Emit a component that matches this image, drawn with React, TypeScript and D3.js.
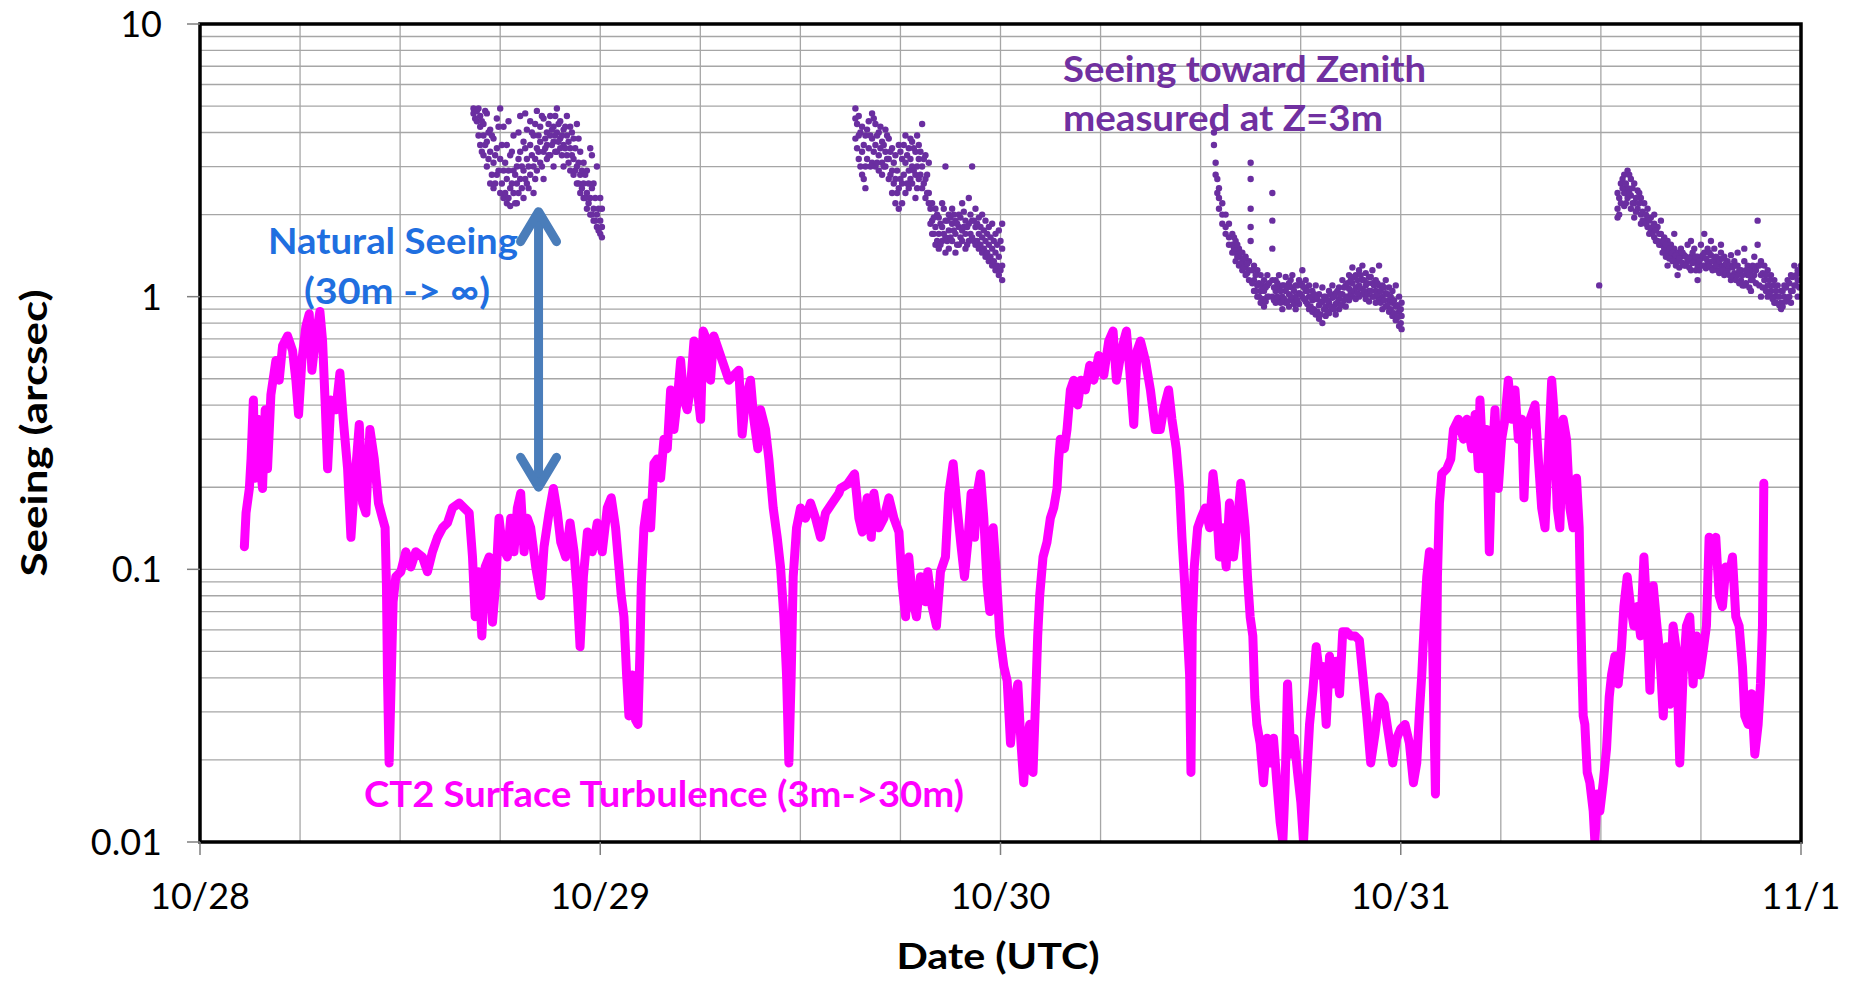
import React from 'react';
import * as d3 from 'd3';

// ---------- axes ----------
const dayLabels = ['10/28', '10/29', '10/30', '10/31', '11/1'];
const dayHours = [0, 24, 48, 72, 96];
const yTickValues = [0.01, 0.1, 1, 10];
const yTickLabels = ['0.01', '0.1', '1', '10'];

// ---------- CT2 surface turbulence (3m->30m): [hours since 10/28 00:00, arcsec] ----------
const ct2Turbulence: [number, number][] = [
  [2.66,0.121],[2.76,0.161],[2.96,0.198],[3.06,0.254],[3.2,0.418],[3.31,0.216],[3.45,0.355],[3.59,0.254],[3.75,0.198],[3.91,0.385],[4.05,0.234],[4.25,0.436],[4.55,0.583],[4.75,0.494],[4.95,0.66],[5.25,0.718],[5.55,0.634],[5.75,0.494],[5.91,0.37],[6.11,0.583],[6.35,0.78],[6.55,0.865],[6.71,0.537],[6.91,0.688],[7.19,0.883],[7.35,0.688],[7.51,0.401],[7.65,0.234],[7.85,0.418],[8.15,0.385],[8.39,0.525],[8.59,0.355],[8.85,0.234],[9.05,0.131],[9.25,0.198],[9.55,0.34],[9.75,0.175],[9.95,0.161],[10.19,0.326],[10.45,0.254],[10.7,0.175],[10.94,0.154],[11.1,0.142],[11.18,0.087],[11.24,0.041],[11.34,0.0195],[11.44,0.034],[11.58,0.076],[11.74,0.094],[12.04,0.098],[12.34,0.116],[12.64,0.102],[12.94,0.116],[13.34,0.111],[13.64,0.098],[13.94,0.116],[14.24,0.131],[14.54,0.142],[14.84,0.148],[15.14,0.168],[15.54,0.175],[15.84,0.168],[16.14,0.161],[16.34,0.111],[16.5,0.067],[16.7,0.098],[16.9,0.057],[17.1,0.102],[17.34,0.111],[17.54,0.064],[17.74,0.09],[17.93,0.154],[18.13,0.121],[18.43,0.111],[18.63,0.154],[18.83,0.116],[19.03,0.168],
  [19.23,0.19],[19.43,0.116],[19.63,0.154],[19.83,0.142],[20.13,0.102],[20.43,0.08],[20.63,0.121],[20.93,0.161],[21.19,0.198],[21.43,0.161],[21.63,0.126],[21.93,0.111],[22.19,0.148],[22.43,0.116],[22.63,0.08],[22.79,0.052],[22.99,0.094],[23.23,0.137],[23.52,0.116],[23.82,0.148],[24.12,0.116],[24.42,0.168],[24.66,0.183],[24.92,0.142],[25.12,0.102],[25.26,0.08],[25.42,0.067],[25.58,0.041],[25.72,0.029],[25.92,0.041],[26.12,0.028],[26.26,0.027],[26.38,0.05],[26.46,0.087],[26.62,0.142],[26.82,0.175],[27.02,0.142],[27.22,0.244],[27.42,0.254],[27.62,0.216],[27.82,0.3],[28.02,0.277],[28.22,0.455],[28.42,0.326],[28.62,0.418],[28.82,0.583],[29.02,0.418],[29.22,0.385],[29.42,0.474],[29.62,0.688],[29.82,0.455],[30.02,0.355],[30.17,0.748],[30.41,0.688],[30.61,0.494],[30.81,0.718],[31.11,0.634],[31.41,0.56],[31.71,0.494],[32.01,0.515],[32.31,0.537],[32.51,0.313],[32.71,0.418],[33.01,0.494],[33.21,0.355],[33.45,0.277],[33.61,0.385],[33.91,0.326],[34.11,0.254],[34.37,0.168],[34.61,0.131],[34.81,0.102],[35.01,0.067],[35.17,0.041],[35.31,0.0195],[35.45,0.041],[35.57,0.094],[35.77,0.142],[36.01,0.168],[36.31,0.154],[36.61,0.175],[36.91,0.154],[37.21,0.131],[37.51,0.161],[37.91,0.175],[38.31,0.19],
  [38.41,0.198],[38.81,0.205],[39.25,0.224],[39.51,0.154],[39.71,0.137],[40.01,0.183],[40.25,0.131],[40.41,0.19],[40.71,0.142],[41.01,0.154],[41.31,0.183],[41.61,0.154],[41.91,0.137],[42.11,0.087],[42.31,0.067],[42.5,0.111],[42.7,0.08],[42.96,0.067],[43.2,0.094],[43.5,0.076],[43.64,0.098],[43.9,0.073],[44.16,0.062],[44.4,0.098],[44.7,0.111],[44.9,0.19],[45.16,0.244],[45.4,0.168],[45.64,0.121],[45.84,0.094],[46.04,0.126],[46.24,0.19],[46.44,0.131],[46.6,0.19],[46.8,0.224],[47.0,0.154],[47.2,0.087],[47.36,0.07],[47.56,0.142],[47.76,0.094],[47.96,0.057],[48.2,0.044],[48.4,0.039],[48.6,0.023],[48.8,0.032],[49.04,0.038],[49.23,0.023],[49.39,0.0165],[49.55,0.023],[49.75,0.027],[49.95,0.018],[50.11,0.034],[50.23,0.057],[50.35,0.08],[50.55,0.111],[50.79,0.126],[50.99,0.154],[51.19,0.168],[51.39,0.198],[51.49,0.254],[51.59,0.3],[51.83,0.277],[51.99,0.326],[52.19,0.455],[52.39,0.494],[52.63,0.401],[52.83,0.494],[53.09,0.455],[53.35,0.56],[53.59,0.494],[53.89,0.608],[54.19,0.515],[54.49,0.688],[54.75,0.748],[54.95,0.494],[55.15,0.583],[55.39,0.688],[55.55,0.748],[55.75,0.537],[55.99,0.34],[56.19,0.634],[56.39,0.688],[56.69,0.583],[56.99,0.455],[57.28,0.326],
  [57.58,0.326],[57.78,0.385],[58.08,0.455],[58.28,0.355],[58.54,0.277],[58.74,0.198],[58.88,0.131],[59.02,0.094],[59.18,0.062],[59.34,0.041],[59.42,0.018],[59.5,0.062],[59.62,0.102],[59.82,0.142],[60.02,0.154],[60.28,0.168],[60.54,0.142],[60.74,0.224],[60.94,0.175],[61.13,0.111],[61.33,0.142],[61.53,0.102],[61.73,0.175],[61.97,0.111],[62.17,0.142],[62.41,0.207],[62.67,0.142],[62.81,0.094],[62.97,0.067],[63.13,0.057],[63.25,0.034],[63.37,0.027],[63.57,0.023],[63.77,0.0165],[63.97,0.024],[64.17,0.0195],[64.37,0.024],[64.57,0.0165],[64.77,0.0118],[64.93,0.01],[65.07,0.0165],[65.21,0.038],[65.41,0.021],[65.61,0.024],[65.81,0.018],[66.01,0.014],[66.17,0.01],[66.33,0.016],[66.53,0.027],[66.73,0.036],[66.93,0.052],[67.13,0.041],[67.33,0.044],[67.53,0.027],[67.73,0.048],[67.93,0.038],[68.13,0.046],[68.33,0.035],[68.52,0.059],[68.76,0.059],[69.0,0.057],[69.26,0.057],[69.52,0.055],[69.72,0.041],[69.96,0.029],[70.2,0.0195],[70.46,0.025],[70.72,0.034],[71.0,0.032],[71.26,0.025],[71.52,0.0195],[71.76,0.024],[72.0,0.026],[72.26,0.027],[72.52,0.023],[72.76,0.0165],[72.96,0.0195],[73.12,0.03],[73.26,0.041],[73.4,0.062],[73.56,0.094],[73.72,0.116],[73.86,0.076],[74.0,0.027],[74.08,0.015],[74.2,0.094],[74.32,0.175],[74.46,0.224],[74.76,0.234],[75.0,0.254],[75.16,0.326],[75.46,0.355],[75.76,0.3],[75.96,0.355],[76.26,0.277],[76.46,0.37],[76.66,0.234],
  [76.75,0.418],[76.95,0.234],[77.15,0.326],[77.31,0.116],[77.45,0.234],[77.65,0.385],[77.85,0.198],[78.05,0.3],[78.25,0.355],[78.45,0.494],[78.65,0.355],[78.85,0.455],[79.05,0.3],[79.25,0.355],[79.39,0.183],[79.55,0.326],[79.75,0.355],[80.05,0.401],[80.25,0.254],[80.45,0.168],[80.65,0.142],[80.85,0.265],[81.05,0.494],[81.18,0.385],[81.38,0.168],[81.54,0.142],[81.74,0.355],[81.94,0.3],[82.14,0.168],[82.34,0.142],[82.54,0.216],[82.7,0.142],[82.78,0.076],[82.86,0.045],[82.94,0.029],[83.04,0.027],[83.18,0.018],[83.34,0.0165],[83.54,0.013],[83.64,0.01],[83.78,0.015],[83.94,0.013],[84.14,0.0165],[84.34,0.022],[84.5,0.034],[84.64,0.041],[84.84,0.048],[85.04,0.038],[85.24,0.052],[85.38,0.073],[85.58,0.094],[85.78,0.073],[85.98,0.062],[86.18,0.073],[86.38,0.057],[86.58,0.111],[86.74,0.073],[86.94,0.036],[87.14,0.087],[87.34,0.064],[87.54,0.048],[87.74,0.029],[87.94,0.052],[88.13,0.032],[88.33,0.062],[88.53,0.05],[88.73,0.0195],[88.93,0.041],[89.13,0.062],[89.33,0.067],[89.53,0.038],[89.73,0.057],[89.93,0.041],[90.13,0.05],[90.33,0.062],[90.49,0.131],[90.69,0.111],[90.89,0.131],[91.09,0.08],[91.29,0.073],[91.49,0.102],[91.69,0.094],[91.89,0.111],[92.09,0.067],[92.29,0.062],[92.49,0.044],[92.63,0.029],[92.83,0.027],[93.03,0.035],[93.23,0.021],[93.43,0.027],[93.57,0.038],[93.69,0.062],[93.73,0.111],[93.77,0.207],
];

// ---------- Seeing toward zenith measured at Z=3m: [hour, values read at that hour] ----------
const zenithNight1: [number, number[]][] = [
  [16.4,[4.9,4.7]],[16.6,[4.8,4.4]],[16.8,[4.6,4.2,3.6]],[17.0,[4.3,3.9,3.3]],[17.2,[4.7,3.7,3.0]],[17.4,[4.1,3.4,2.6]],[17.6,[3.8,3.1,2.5]],[17.8,[4.5,3.5,2.8]],[18.0,[4.9,3.2,2.4]],[18.2,[4.2,2.9,2.3]],[18.4,[3.6,2.7,2.2]],[18.6,[3.3,2.5,2.15]],[18.8,[3.9,2.9,2.4]],[19.0,[3.0,2.6,2.2]],[19.2,[4.6,3.4,2.7]],[19.4,[3.7,2.9,2.3]],[19.6,[4.1,3.2,2.6]],[19.8,[4.4,3.6,2.8]],[20.0,[3.9,3.0,2.4]],[20.2,[4.8,3.5,2.9]],[20.4,[4.2,3.7,3.1]],[20.6,[4.5,3.4,2.7]],[20.8,[4.0,3.6,3.2]],[21.0,[4.6,3.9,3.3]],[21.2,[4.2,3.7,3.0]],[21.4,[4.9,4.0,3.4]],[21.6,[4.4,3.8,3.5]],[21.8,[4.1,3.6,3.0]],[22.0,[4.6,3.9,3.3]],[22.2,[4.2,3.5,2.9]],[22.4,[3.8,3.2,2.8]],[22.6,[4.3,3.0,2.6]],[22.8,[3.4,2.8,2.4]],[23.0,[3.1,2.6,2.3]],[23.2,[2.9,2.4,2.1]],[23.4,[3.5,2.3,2.0]],[23.6,[2.6,2.1,1.9]],[23.8,[3.0,2.0,1.8]],[24.0,[2.3,1.9,1.7]],[24.1,[2.1,1.8,1.65]],
  [16.5,[4.5]],[16.7,[3.9,4.9]],[16.9,[4.4,3.4]],[17.1,[3.6,4.8]],[17.3,[3.2,4.0]],[17.5,[2.8,3.9]],[17.7,[3.3,2.6]],[17.9,[2.9,4.2]],[18.1,[2.6,3.6]],[18.3,[2.4,3.1]],[18.5,[2.3,2.9,4.4]],[18.7,[2.6,3.4]],[18.9,[2.2,2.8]],[19.1,[2.4,3.2,4.0]],[19.3,[2.5,3.0]],[19.5,[2.7,3.5,4.7]],[19.7,[3.0,2.5]],[19.9,[3.3,4.0]],[20.1,[2.7,3.2,4.3]],[20.3,[3.4,3.9]],[20.5,[3.0,4.6]],[20.7,[3.5,3.8]],[20.9,[3.3,4.3]],[21.1,[3.6,4.1]],[21.3,[3.4,3.9,4.6]],[21.5,[3.7,4.3]],[21.7,[3.3,3.9]],[21.9,[3.5,4.2]],[22.1,[3.1,3.7]],[22.3,[3.3,4.0]],[22.5,[2.9,3.5]],[22.7,[2.6,3.1,3.8]],[22.9,[2.5,2.9]],[23.1,[2.3,2.8]],[23.3,[2.2,2.6]],[23.5,[2.0,2.5,3.3]],[23.7,[1.9,2.3]],[23.9,[1.75,2.1]],
];
const zenithNight2: [number, number[]][] = [
  [39.3,[4.9,4.5,3.8]],[39.5,[4.6,3.9,3.2]],[39.7,[4.2,3.4,2.8]],[39.9,[3.9,3.0,2.5]],[40.1,[4.4,3.5]],[40.3,[4.7,3.8,3.1]],[40.5,[4.3,3.6,3.0]],[40.7,[4.0,3.3,2.9]],[40.9,[3.7,3.1,2.8]],[41.1,[4.1,3.4,3.0]],[41.3,[3.8,3.2,2.7]],[41.5,[3.5,2.9,2.4]],[41.7,[3.3,2.7,2.2]],[41.9,[3.6,2.5,2.1]],[42.1,[3.2,2.6,2.2]],[42.3,[3.9,3.1,2.4]],[42.5,[3.5,2.9,2.5]],[42.7,[3.7,3.0,2.6]],[42.9,[3.4,2.8,2.3]],[43.1,[3.6,3.2,2.7]],[43.3,[4.3,3.0,2.5]],[43.5,[3.3,2.7,2.3]],[43.7,[3.1,2.4,2.2]],[43.9,[2.2,1.9,1.7]],[44.1,[2.1,1.8,1.55]],[44.3,[1.95,1.7,1.5]],[44.5,[2.2,1.8,1.6]],[44.7,[3.0,1.9,1.65,1.45]],[44.9,[2.0,1.75,1.5]],[45.1,[2.1,1.85,1.6]],[45.3,[1.9,1.7,1.45]],[45.5,[2.0,1.8,1.55]],[45.7,[2.2,1.75,1.6]],[45.9,[1.9,1.7,1.5]],[46.1,[2.3,1.85,1.6]],[46.3,[3.0,1.9,1.65]],[46.5,[2.1,1.8,1.55]],[46.7,[1.95,1.7,1.5]],[46.9,[2.0,1.65,1.45]],[47.1,[1.9,1.6,1.4]],[47.3,[1.8,1.55,1.35]],[47.5,[1.85,1.5,1.3]],[47.7,[1.7,1.45,1.25]],[47.9,[1.75,1.4,1.2]],[48.1,[1.85,1.5,1.3,1.15]],
  [39.4,[4.3,3.5]],[39.6,[4.0,3.0]],[39.8,[3.6,2.7]],[40.0,[4.1,3.2]],[40.2,[3.9,3.0]],[40.4,[4.5,3.4]],[40.6,[3.9,3.1]],[40.8,[4.2,3.5]],[41.0,[3.6,3.0]],[41.2,[3.9,3.2]],[41.4,[3.4,2.8]],[41.6,[3.1,2.6]],[41.8,[2.9,2.4]],[42.0,[3.4,2.7]],[42.2,[3.6,2.8]],[42.4,[3.3,2.6]],[42.6,[3.8,3.2,2.7]],[42.8,[3.5,2.9]],[43.0,[3.9,3.0,2.5]],[43.2,[3.4,2.8]],[43.4,[3.2,2.6]],[43.6,[2.8,2.4]],[43.8,[2.1,1.85]],[44.0,[1.95,1.7]],[44.2,[2.0,1.6]],[44.4,[1.85,1.55]],[44.6,[2.1,1.7]],[44.8,[1.9,1.6]],[45.0,[1.95,1.65]],[45.2,[2.0,1.75]],[45.4,[1.85,1.55]],[45.6,[1.95,1.65]],[45.8,[2.05,1.8]],[46.0,[1.8,1.55]],[46.2,[2.0,1.7]],[46.4,[1.9,1.6]],[46.6,[1.85,1.6]],[46.8,[1.8,1.55]],[47.0,[1.75,1.5]],[47.2,[1.7,1.45]],[47.4,[1.65,1.4]],[47.6,[1.6,1.35]],[47.8,[1.55,1.3]],[48.0,[1.6,1.25]],
];
const zenithNight3: [number, number[]][] = [
  [60.8,[4.0,3.6]],[60.9,[3.1,2.8]],[61.0,[2.7,2.4]],[61.1,[2.5,2.3,2.1]],[61.3,[2.2,2.0,1.85]],[61.5,[2.0,1.8,1.7]],[61.7,[1.85,1.65,1.55]],[61.9,[1.7,1.55,1.45]],[62.1,[1.6,1.45,1.35]],[62.3,[1.5,1.4,1.3]],[62.5,[1.45,1.35,1.25]],[62.7,[1.4,1.3,1.2]],[62.9,[1.35,1.25,1.15]],[63.0,[3.1,2.7,2.1,1.8,1.6]],[63.2,[1.3,1.15,1.05]],[63.4,[1.25,1.1,1.0]],[63.6,[1.2,1.05,0.95]],[63.8,[1.15,1.05,0.92]],[64.0,[1.2,1.1,1.0]],[64.3,[2.4,1.9,1.5,1.15,1.0]],[64.5,[1.15,1.05,0.95]],[64.7,[1.2,1.08,0.98]],[64.9,[1.1,1.0,0.9]],[65.1,[1.18,1.05,0.95]],[65.3,[1.12,1.02,0.92]],[65.5,[1.2,1.08,0.97]],[65.7,[1.1,1.0,0.9]],[65.9,[1.15,1.03,0.94]],[66.1,[1.25,1.1,1.0]],[66.3,[1.15,1.05,0.96]],[66.5,[1.1,1.0,0.9]],[66.7,[1.05,0.97,0.88]],[66.9,[1.1,0.98,0.86]],[67.1,[1.02,0.93,0.83]],[67.3,[1.08,0.96,0.8]],[67.5,[1.0,0.92,0.85]],[67.7,[1.05,0.95,0.87]],[67.9,[1.1,0.99,0.9]],[68.1,[1.03,0.94,0.86]],[68.3,[1.08,0.98,0.9]],[68.5,[1.15,1.02,0.93]],[68.7,[1.1,1.0,0.92]],[68.9,[1.2,1.07,0.97]],[69.1,[1.28,1.12,1.0]],[69.3,[1.2,1.08,0.98]],[69.5,[1.25,1.1,1.0]],[69.7,[1.3,1.15,1.02]],[69.9,[1.22,1.1,0.98]],[70.1,[1.18,1.05,0.96]],[70.3,[1.25,1.12,1.0]],[70.5,[1.15,1.05,0.95]],[70.7,[1.3,1.1,0.98]],[70.9,[1.1,1.0,0.9]],[71.1,[1.15,1.03,0.92]],[71.3,[1.08,0.97,0.88]],[71.5,[1.05,0.95,0.85]],[71.7,[1.1,0.92,0.82]],[71.9,[1.0,0.88,0.78]],[72.05,[0.95,0.85,0.76]],
  [62.0,[1.65,1.5]],[62.2,[1.55,1.4]],[62.4,[1.45,1.32]],[62.6,[1.38,1.28]],[62.8,[1.32,1.22]],[63.1,[1.25,1.12]],[63.3,[1.2,1.05]],[63.5,[1.12,1.0]],[63.7,[1.1,0.98]],[63.9,[1.08,0.96]],[64.1,[1.12,1.0]],[64.4,[1.08,0.97]],[64.6,[1.12,1.0]],[64.8,[1.05,0.95]],[65.0,[1.1,0.98]],[65.2,[1.08,0.96]],[65.4,[1.15,1.0]],[65.6,[1.05,0.94]],[65.8,[1.1,0.97]],[66.0,[1.12,1.02]],[66.2,[1.08,0.98]],[66.4,[1.05,0.94]],[66.6,[1.0,0.92]],[66.8,[1.02,0.9]],[67.0,[0.98,0.88]],[67.2,[0.95,0.86]],[67.4,[1.0,0.9]],[67.6,[0.97,0.88]],[67.8,[1.02,0.92]],[68.0,[1.0,0.9]],[68.2,[1.05,0.95]],[68.4,[1.02,0.93]],[68.6,[1.08,0.97]],[68.8,[1.12,1.0]],[69.0,[1.15,1.03]],[69.2,[1.18,1.05]],[69.4,[1.15,1.03]],[69.6,[1.2,1.07]],[69.8,[1.15,1.05]],[70.0,[1.12,1.02]],[70.2,[1.18,1.05]],[70.4,[1.1,1.0]],[70.6,[1.12,1.02]],[70.8,[1.05,0.95]],[71.0,[1.08,0.97]],[71.2,[1.02,0.93]],[71.4,[1.0,0.9]],[71.6,[0.97,0.87]],[71.8,[0.93,0.84]],[72.0,[0.9,0.8]],
];
const zenithNight4: [number, number[]][] = [
  [83.9,[1.1]],
  [85.0,[2.4,2.1,1.95]],[85.2,[2.6,2.2]],[85.4,[2.8,2.4,2.15]],[85.6,[2.9,2.5,2.3]],[85.8,[2.7,2.35,2.1]],[86.0,[2.6,2.2,1.95]],[86.2,[2.45,2.1]],[86.4,[2.3,2.0,1.85]],[86.6,[2.2,1.9]],[86.8,[2.1,1.8,1.95]],[87.0,[1.95,1.75]],[87.2,[1.85,1.65,2.0]],[87.4,[1.8,1.6]],[87.6,[1.7,1.55,1.9]],[87.8,[1.65,1.5]],[88.0,[1.6,1.45,1.3]],[88.2,[1.55,1.42]],[88.4,[1.5,1.38,1.7]],[88.6,[1.45,1.35,1.2]],[88.8,[1.5,1.4]],[89.0,[1.42,1.3]],[89.2,[1.55,1.35]],[89.4,[1.4,1.25,1.6]],[89.6,[1.5,1.35]],[89.8,[1.4,1.3,1.15]],[90.0,[1.55,1.38]],[90.2,[1.45,1.3,1.7]],[90.4,[1.5,1.35]],[90.6,[1.42,1.28,1.6]],[90.8,[1.5,1.35]],[91.0,[1.38,1.25]],[91.2,[1.45,1.3,1.55]],[91.4,[1.4,1.3,1.2]],[91.6,[1.35,1.25]],[91.8,[1.42,1.3,1.15]],[92.0,[1.35,1.22]],[92.2,[1.3,1.2,1.45]],[92.4,[1.25,1.15]],[92.6,[1.35,1.1,1.5]],[92.8,[1.3,1.2]],[93.0,[1.25,1.15,1.05]],[93.2,[1.4,1.2]],[93.4,[1.9,1.55,1.3]],[93.6,[1.35,1.2,1.0]],[93.8,[1.3,1.15]],[94.0,[1.25,1.1,1.0]],[94.2,[1.2,1.05]],[94.4,[1.15,1.0,0.95]],[94.6,[1.1,1.0]],[94.8,[1.05,0.95,0.9]],[95.0,[1.1,1.0]],[95.2,[1.15,0.98]],[95.4,[1.2,1.05,0.95]],[95.6,[1.3,1.1]],[95.8,[1.25,1.15,1.0]],[96.0,[1.3,1.15]],
  [85.1,[2.3,2.0]],[85.3,[2.5,2.7]],[85.5,[2.6,2.2]],[85.7,[2.4,2.8]],[85.9,[2.5,2.2]],[86.1,[2.3,2.05]],[86.3,[2.2,2.4]],[86.5,[2.05,1.9]],[86.7,[2.0,1.85]],[86.9,[1.9,1.7]],[87.1,[1.8,1.7]],[87.3,[1.75,1.6]],[87.5,[1.7,1.55]],[87.7,[1.6,1.45]],[87.9,[1.55,1.4]],[88.1,[1.5,1.38]],[88.3,[1.45,1.35]],[88.5,[1.42,1.3]],[88.7,[1.38,1.28]],[88.9,[1.45,1.33]],[89.1,[1.4,1.3]],[89.3,[1.38,1.28]],[89.5,[1.45,1.33]],[89.7,[1.4,1.25]],[89.9,[1.35,1.25]],[90.1,[1.42,1.3]],[90.3,[1.38,1.27]],[90.5,[1.45,1.3]],[90.7,[1.35,1.25]],[90.9,[1.4,1.3]],[91.1,[1.35,1.22]],[91.3,[1.38,1.25]],[91.5,[1.32,1.22]],[91.7,[1.3,1.2]],[91.9,[1.28,1.18]],[92.1,[1.3,1.15]],[92.3,[1.25,1.12]],[92.5,[1.2,1.1]],[92.7,[1.25,1.12]],[92.9,[1.2,1.08]],[93.1,[1.3,1.15]],[93.3,[1.25,1.12]],[93.5,[1.3,1.1]],[93.7,[1.22,1.08]],[93.9,[1.2,1.05]],[94.1,[1.15,1.02]],[94.3,[1.1,0.98]],[94.5,[1.05,0.95]],[94.7,[1.0,0.93]],[94.9,[1.05,0.92]],[95.1,[1.08,0.96]],[95.3,[1.12,1.0]],[95.5,[1.18,1.05]],[95.7,[1.2,1.1]],[95.9,[1.22,1.08]],
];

const FONT = 'Lato, "Open Sans", "DejaVu Sans", sans-serif';

export default function App() {
  const W = 1857, H = 982;
  const left = 200, right = 1801, top = 24, bottom = 842;
  const x = d3.scaleLinear().domain([0, 96]).range([left, right]);
  const y = d3.scaleLog().domain([0.01, 10]).range([bottom, top]);

  const hGrid = y.ticks().filter(v => v > 0.0100001 && v < 9.9999);
  const vGrid = d3.range(6, 96, 6);

  const line = d3.line<[number, number]>().x(d => x(d[0])).y(d => y(d[1]));

  const zenithDots: [number, number][] = [];
  [zenithNight1, zenithNight2, zenithNight3, zenithNight4].forEach(seg =>
    seg.forEach(([h, vals]) => vals.forEach(v => zenithDots.push([h, v])))
  );

  const arrowX = x(20.3);
  const arrowTop = y(2.05);
  const arrowBot = y(0.2);

  return (
    <svg width={W} height={H} style={{ position: 'absolute', left: 0, top: 0, background: '#fff' }}>
      <defs>
        <clipPath id="plotClip">
          <rect x={left} y={top} width={right - left} height={bottom - top} />
        </clipPath>
      </defs>
      <rect x={0} y={0} width={W} height={H} fill="#fff" />
      {/* grid */}
      <g stroke="#a6a6a6" strokeWidth={1.3}>
        {hGrid.map((v, i) => (
          <line key={'h' + i} x1={left} x2={right} y1={y(v)} y2={y(v)} />
        ))}
        {vGrid.map((h, i) => (
          <line key={'v' + i} x1={x(h)} x2={x(h)} y1={top} y2={bottom} />
        ))}
      </g>
      {/* data */}
      <g clipPath="url(#plotClip)">
        <path d={line(ct2Turbulence) || ''} fill="none" stroke="#ff00ff" strokeWidth={9}
          strokeLinejoin="round" strokeLinecap="round" />
        {zenithDots.map((d, i) => (
          <circle key={i} cx={x(d[0])} cy={y(d[1])} r={3.2} fill="#6a2ea0" />
        ))}
      </g>
      {/* frame */}
      <rect x={left} y={top} width={right - left} height={bottom - top} fill="none" stroke="#000" strokeWidth={3.5} />
      {/* ticks */}
      <g stroke="#7f7f7f" strokeWidth={1.5}>
        {yTickValues.map((v, i) => (
          <line key={'yt' + i} x1={left - 13} x2={left} y1={y(v)} y2={y(v)} />
        ))}
        {dayHours.map((h, i) => (
          <line key={'xt' + i} x1={x(h)} x2={x(h)} y1={bottom} y2={bottom + 13} />
        ))}
      </g>
      <g fontFamily={FONT} fontSize={36} fill="#000">
        {yTickValues.map((v, i) => (
          <text key={'yl' + i} x={162} y={y(v)} dy="0.36em" textAnchor="end">{yTickLabels[i]}</text>
        ))}
        {dayHours.map((h, i) => (
          <text key={'xl' + i} x={x(h)} y={909} textAnchor="middle">{dayLabels[i]}</text>
        ))}
      </g>
      {/* axis titles */}
      <text x={998} y={969} textAnchor="middle" fontFamily={FONT} fontWeight="bold" fontSize={36}
        textLength={203} lengthAdjust="spacingAndGlyphs">Date (UTC)</text>
      <text transform="translate(47,433) rotate(-90)" textAnchor="middle" fontFamily={FONT} fontWeight="bold"
        fontSize={36} textLength={287} lengthAdjust="spacingAndGlyphs">Seeing (arcsec)</text>
      {/* annotations */}
      <g fontFamily={FONT} fontWeight="bold" fontSize={36}>
        <text x={268} y={254} fill="#1f6fe0" textLength={250} lengthAdjust="spacingAndGlyphs">Natural Seeing</text>
        <text x={304} y={304} fill="#1f6fe0" textLength={186} lengthAdjust="spacingAndGlyphs">(30m -&gt; ∞)</text>
        <text x={1063} y={82} fill="#7030a0" textLength={363} lengthAdjust="spacingAndGlyphs">Seeing toward Zenith</text>
        <text x={1063} y={131} fill="#7030a0" textLength={320} lengthAdjust="spacingAndGlyphs">measured at Z=3m</text>
        <text x={364} y={807} fill="#ff00ff" textLength={600} lengthAdjust="spacingAndGlyphs">CT2 Surface Turbulence (3m-&gt;30m)</text>
      </g>
      {/* double arrow */}
      <g stroke="#4a7dba" strokeWidth={9} strokeLinecap="round" strokeLinejoin="round" fill="none">
        <line x1={arrowX} x2={arrowX} y1={arrowTop + 4} y2={arrowBot - 4} />
        <path d={`M${arrowX - 18},${arrowTop + 30} L${arrowX},${arrowTop} L${arrowX + 18},${arrowTop + 30}`} />
        <path d={`M${arrowX - 18},${arrowBot - 30} L${arrowX},${arrowBot} L${arrowX + 18},${arrowBot - 30}`} />
      </g>
    </svg>
  );
}
